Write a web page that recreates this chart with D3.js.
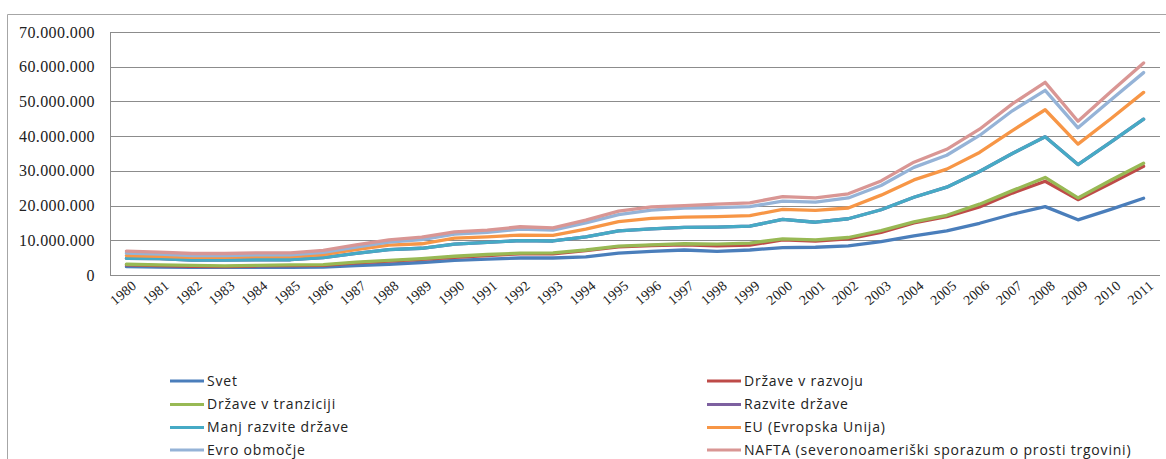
<!DOCTYPE html>
<html>
<head>
<meta charset="utf-8">
<script src="https://cdn.jsdelivr.net/npm/d3@7"></script>
<style>
  html, body { margin: 0; padding: 0; background: #fff; }
  svg { display: block; }
</style>
</head>
<body>
<svg id="chart" width="1166" height="459"></svg>
<script>
// Years on the category axis
const years = [1980,1981,1982,1983,1984,1985,1986,1987,1988,1989,1990,1991,1992,1993,1994,1995,
               1996,1997,1998,1999,2000,2001,2002,2003,2004,2005,2006,2007,2008,2009,2010,2011];

// Series values, in millions
const svet = [2.4,2.3,2.2,2.2,2.2,2.2,2.3,2.7,3.1,3.6,4.2,4.6,4.9,4.9,5.2,6.3,
              6.8,7.2,6.8,7.2,7.9,8.0,8.4,9.6,11.3,12.7,14.9,17.5,19.7,15.9,18.9,22.1];
const drzaveVRazvoju = [2.9,2.7,2.5,2.4,2.6,2.7,2.8,3.5,4.0,4.5,5.1,5.6,6.1,6.1,7.0,8.1,
              8.5,8.7,8.4,8.6,10.1,9.8,10.4,12.3,15.0,16.8,19.6,23.6,27.0,21.7,26.4,31.3];
const drzaveVTranziciji = [3.1,2.9,2.8,2.6,2.8,2.9,3.0,3.7,4.2,4.7,5.4,5.9,6.3,6.4,7.2,8.3,
              8.7,9.0,8.9,9.2,10.4,10.1,10.8,12.8,15.3,17.2,20.4,24.3,28.1,22.2,27.3,32.2];
const razviteDrzave = [4.8,4.7,4.3,4.3,4.4,4.4,5.0,6.2,7.3,7.7,8.9,9.4,9.9,9.8,11.0,12.7,
              13.3,13.7,13.8,14.1,16.0,15.2,16.2,18.8,22.4,25.3,29.8,35.0,39.8,31.8,38.3,44.9];
const manjRazviteDrzave = [4.8,4.7,4.3,4.3,4.4,4.4,5.0,6.2,7.3,7.7,8.9,9.4,9.9,9.8,11.0,12.7,
              13.3,13.7,13.8,14.1,16.0,15.2,16.2,18.8,22.4,25.3,29.8,35.0,39.8,31.8,38.3,44.9];
const eu = [5.6,5.4,5.1,5.1,5.3,5.3,5.9,7.3,8.6,9.0,10.6,11.0,11.5,11.4,13.2,15.4,
              16.3,16.7,16.8,17.1,18.9,18.6,19.3,23.0,27.4,30.5,35.3,41.6,47.6,37.7,45.0,52.6];
const evroObmocje = [6.3,6.0,5.6,5.6,5.8,5.8,6.5,8.0,9.5,10.2,11.8,12.3,13.2,12.9,15.0,17.4,
              18.7,19.3,19.4,19.7,21.3,21.0,22.2,25.8,31.0,34.5,40.2,47.3,53.2,42.4,50.4,58.3];
const nafta = [6.9,6.6,6.2,6.2,6.4,6.4,7.1,8.7,10.1,10.9,12.4,12.9,13.9,13.6,15.8,18.4,
              19.6,20.0,20.4,20.8,22.6,22.2,23.4,27.1,32.5,36.2,42.0,49.3,55.5,44.3,52.8,61.1];

// Series names as shown in the legend
const seriesNames = ["Svet","Države v razvoju","Države v tranziciji","Razvite države",
                     "Manj razvite države","EU (Evropska Unija)","Evro območje",
                     "NAFTA (severonoameriški sporazum o prosti trgovini)"];
const seriesValues = [svet, drzaveVRazvoju, drzaveVTranziciji, razviteDrzave,
                      manjRazviteDrzave, eu, evroObmocje, nafta];
const seriesColors = ["#4a7ebb","#be4b48","#98b954","#7d60a0","#46aac5","#f79646","#95b3d7","#d99694"];

// Value axis ticks (millions)
const yTicks = [0,10,20,30,40,50,60,70];

const svg = d3.select("#chart");

// Outer chart frame
svg.append("path")
  .attr("d", "M7.5,459 L7.5,14.5 L1166,14.5")
  .attr("fill", "none")
  .attr("stroke", "#a6a6a6")
  .attr("stroke-width", 1);

const plot = { left: 110, right: 1160, top: 32, bottom: 275 };

const x = d3.scalePoint()
  .domain(years)
  .range([plot.left, plot.right])
  .padding(0.5);

const y = d3.scaleLinear()
  .domain([0, 70])
  .range([plot.bottom, plot.top]);

const fmt = v => d3.format(",")(v * 1e6).replace(/,/g, ".");

// Horizontal gridlines
svg.append("g")
  .selectAll("line")
  .data(yTicks)
  .join("line")
  .attr("x1", plot.left)
  .attr("x2", plot.right)
  .attr("y1", d => Math.round(y(d)) + 0.5)
  .attr("y2", d => Math.round(y(d)) + 0.5)
  .attr("stroke", "#8c8c8c")
  .attr("stroke-width", 1);

// Vertical value-axis line
svg.append("line")
  .attr("x1", plot.left + 0.5).attr("x2", plot.left + 0.5)
  .attr("y1", Math.round(y(70)) + 0.5).attr("y2", Math.round(y(0)) + 0.5)
  .attr("stroke", "#8c8c8c");

// Value axis labels
svg.append("g")
  .selectAll("text")
  .data(yTicks)
  .join("text")
  .attr("x", 95)
  .attr("y", d => y(d))
  .attr("dy", "0.35em")
  .attr("text-anchor", "end")
  .attr("font-family", "Liberation Serif, serif")
  .attr("font-size", 16)
  .attr("letter-spacing", 0.4)
  .attr("fill", "#222")
  .text(d => d === 0 ? "0" : fmt(d));

// Category axis labels, rotated
svg.append("g")
  .selectAll("text")
  .data(years)
  .join("text")
  .attr("transform", d => `translate(${x(d) + 11},${plot.bottom + 12}) rotate(-40)`)
  .attr("text-anchor", "end")
  .attr("font-family", "Liberation Serif, serif")
  .attr("font-size", 14)
  .attr("letter-spacing", 0.3)
  .attr("fill", "#222")
  .text(d => d);

// Lines
const line = d3.line()
  .x((d, i) => x(years[i]))
  .y(d => y(d));

svg.append("g")
  .selectAll("path")
  .data(seriesValues)
  .join("path")
  .attr("d", d => line(d))
  .attr("fill", "none")
  .attr("stroke", (d, i) => seriesColors[i])
  .attr("stroke-width", 3.3)
  .attr("stroke-linejoin", "round")
  .attr("stroke-linecap", "round");

// Legend, two columns
const legendCols = [170, 707];
const legendRows = [381, 404.5, 427.5, 450];
const legend = svg.append("g")
  .selectAll("g")
  .data(seriesNames)
  .join("g")
  .attr("transform", (d, i) => `translate(${legendCols[i % 2]},${legendRows[Math.floor(i / 2)]})`);

legend.append("line")
  .attr("x1", 0).attr("x2", 34)
  .attr("y1", 0).attr("y2", 0)
  .attr("stroke", (d, i) => seriesColors[i])
  .attr("stroke-width", 3);

legend.append("text")
  .attr("x", 37)
  .attr("y", 0)
  .attr("dy", "0.35em")
  .attr("font-family", "Open Sans, sans-serif")
  .attr("font-size", 14)
  .attr("letter-spacing", 0.8)
  .attr("fill", "#222")
  .text(d => d);
</script>
</body>
</html>
